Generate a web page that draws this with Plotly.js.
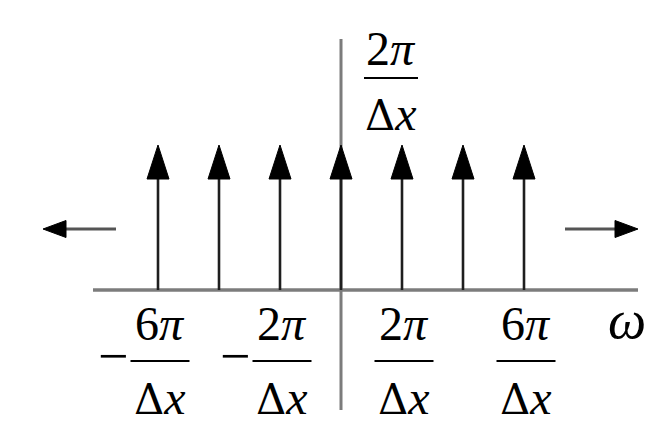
<!DOCTYPE html>
<html>
<head>
<meta charset="utf-8">
<script src="https://cdn.plot.ly/plotly-3.0.1.min.js"></script>
<style>
  html, body { margin: 0; padding: 0; background: #ffffff; }
  #chart { width: 660px; height: 431px; }
</style>
</head>
<body>
<div id="chart"></div>
<script>
// Impulse train: positions in multiples of 2π/Δx, heights in units of 2π/Δx
const impulsePos = [-3, -2, -1, 0, 1, 2, 3];
const impulseHeight = [1, 1, 1, 1, 1, 1, 1];

// Labelled frequencies on the ω axis
const DELTA = "<span style='font-family:DejaVu Serif;font-size:42px'>Δ</span>";
const tickPos = [-3, -1, 1, 3];
const tickSign = ['−', '−', '', ''];
const tickNum = ['6<i>π</i>', '2<i>π</i>', '2<i>π</i>', '6<i>π</i>'];
const tickDen = [DELTA + '<i>x</i>', DELTA + '<i>x</i>', DELTA + '<i>x</i>', DELTA + '<i>x</i>'];

// Height label of the impulses
const heightNum = '2<i>π</i>';
const heightDen = DELTA + '<i>x</i>';
const axisName = '<i>ω</i>';

// drawing scale (pixels per unit) used to size heads and offsets
const PX_X = 61, PX_Y = 145;
const W = 660, H = 431, X0 = 341, Y0 = 290;
const px2x = p => (p - X0) / PX_X;
const px2y = p => (Y0 - p) / PX_Y;

const FONT = 'Liberation Serif';
const FS = 48;

// vertical stems and arrow heads
const headLen = 34 / PX_Y, headHalf = 11 / PX_X;
const stemX = [], stemY = [], headX = [], headY = [];
impulsePos.forEach((k, i) => {
  const h = impulseHeight[i];
  stemX.push(k, k, null);
  stemY.push(0, h - headLen * 0.6, null);
  headX.push(k - headHalf, k, k + headHalf, k - headHalf, null);
  headY.push(h - headLen, h, h - headLen, h - headLen, null);
});

// continuation arrows on both sides of the train
const contY = px2y(229);
const contTail = [px2x(116), px2x(565)];
const contTip = [px2x(43), px2x(638)];
const cLen = 23 / PX_X, cHalf = 8.5 / PX_Y;
const contLX = [], contLY = [], contHX = [], contHY = [];
contTail.forEach((t, i) => {
  const tip = contTip[i];
  const dir = Math.sign(tip - t);
  const base = tip - dir * cLen;
  contLX.push(t, base + dir * cLen * 0.3, null);
  contLY.push(contY, contY, null);
  contHX.push(base, tip, base, base, null);
  contHY.push(contY - cHalf, contY, contY + cHalf, contY - cHalf, null);
});

const traces = [
  { x: stemX, y: stemY, mode: 'lines', line: { color: '#1e1e1e', width: 2.6 }, hoverinfo: 'skip' },
  { x: headX, y: headY, mode: 'lines', fill: 'toself', fillcolor: '#000', line: { color: '#000', width: 1 }, hoverinfo: 'skip' },
  { x: contLX, y: contLY, mode: 'lines', line: { color: '#555', width: 3 }, hoverinfo: 'skip' },
  { x: contHX, y: contHY, mode: 'lines', fill: 'toself', fillcolor: '#000', line: { color: '#000', width: 1 }, hoverinfo: 'skip' }
];

// axis lines
const shapes = [
  { type: 'line', xref: 'x', yref: 'y', x0: px2x(93), x1: px2x(638), y0: 0, y1: 0,
    line: { color: '#7c7c7c', width: 3.4 }, layer: 'below' },
  { type: 'line', xref: 'x', yref: 'y', x0: 0, x1: 0, y0: px2y(410), y1: px2y(39),
    line: { color: '#7c7c7c', width: 3 }, layer: 'below' }
];

const annotations = [];
const txt = (x, y, text, size) => ({
  x, y, xref: 'x', yref: 'y', text, showarrow: false,
  font: { family: FONT, size: size || FS, color: '#000' }, xanchor: 'center', yanchor: 'middle'
});

// fraction labels under the ω axis
const barY = px2y(361), barHalf = 29.5 / PX_X;
tickPos.forEach((k, i) => {
  const cx = k + 2 / PX_X;
  annotations.push(txt(cx, px2y(323), tickNum[i]));
  annotations.push(txt(cx, px2y(397), tickDen[i]));
  shapes.push({ type: 'line', xref: 'x', yref: 'y', x0: cx - barHalf, x1: cx + barHalf,
    y0: barY, y1: barY, line: { color: '#000', width: 2 } });
  if (tickSign[i]) annotations.push(txt(cx - 47 / PX_X, px2y(356), tickSign[i], 54));
});

// height label next to the vertical axis
const hx = px2x(391);
annotations.push(txt(hx, px2y(48), heightNum));
annotations.push(txt(hx, px2y(113), heightDen));
shapes.push({ type: 'line', xref: 'x', yref: 'y', x0: hx - 27 / PX_X, x1: hx + 27 / PX_X,
  y0: px2y(78), y1: px2y(78), line: { color: '#000', width: 2 } });

// axis name
annotations.push(txt(px2x(627), px2y(320), axisName, 54));

const hiddenAxis = { visible: false, fixedrange: true };
const layout = {
  width: W, height: H,
  margin: { l: 0, r: 0, t: 0, b: 0 },
  paper_bgcolor: '#ffffff', plot_bgcolor: '#ffffff',
  showlegend: false,
  xaxis: Object.assign({ range: [px2x(0), px2x(W)] }, hiddenAxis),
  yaxis: Object.assign({ range: [px2y(H), px2y(0)] }, hiddenAxis),
  shapes, annotations
};

Plotly.newPlot('chart', traces, layout, { displayModeBar: false, staticPlot: true });
</script>
</body>
</html>
